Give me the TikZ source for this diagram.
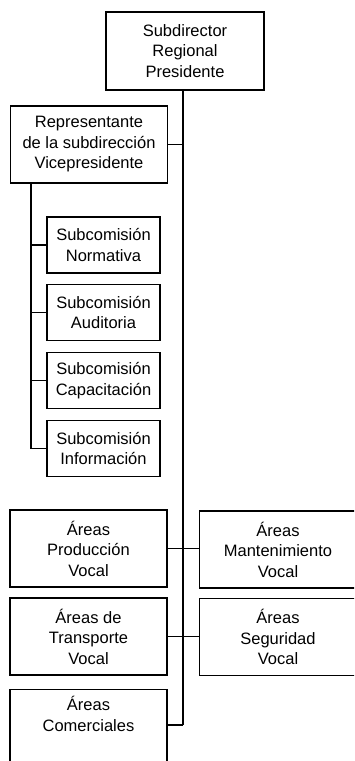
\documentclass[tikz,border=0pt]{standalone}
\usepackage{fontspec}
\setmainfont{Liberation Sans}
\begin{document}
\begin{tikzpicture}[x=1pt,y=-1pt,
  box/.style={draw, line width=1.1pt, align=center, inner sep=0pt,
    font=\fontsize{16.5}{20.5}\selectfont},
  wide/.style={box, minimum width=157pt, minimum height=77pt},
  sub/.style={box, minimum width=113pt, minimum height=56pt},
  txt/.style={align=center, inner sep=0pt, font=\fontsize{16.5}{20.5}\selectfont},
  conn/.style={line width=1.1pt}]
\useasboundingbox (0,0) rectangle (354,761);
\clip (0,0) rectangle (354,761);
\fill[white] (0,0) rectangle (354,761);
% nodes
\node[box, minimum width=158pt, minimum height=78pt] (top) at (185,51) {Subdirector\\Regional\\Presidente};
\node[wide] (rep) at (89,144.5) {Representante\\de la subdirección\\Vicepresidente};
\node[sub] (s1) at (103.5,245) {Subcomisión\\Normativa};
\node[sub] (s2) at (103.5,312.5) {Subcomisión\\Auditoria};
\node[sub] (s3) at (103.5,380.5) {Subcomisión\\Capacitación};
\node[sub] (s4) at (103.5,448.5) {Subcomisión\\Información};
\node[wide] (prod) at (88.5,548.5) {Áreas\\Producción\\Vocal};
\node[wide] (mant) at (278,549.5) {Áreas\\Mantenimiento\\Vocal};
\node[wide] (trans) at (88.5,636.5) {Áreas de\\Transporte\\Vocal};
\node[wide] (seg) at (278,637) {Áreas\\Seguridad\\Vocal};
\node[box, minimum width=157pt, minimum height=140pt, anchor=north] (com) at (88.5,689) {};
\node[txt] (comt) at (88.5,714) {Áreas\\Comerciales};
% coordinates
\coordinate (mtop) at (183,90);
\coordinate (mbot) at (183,725);
\coordinate (ltop) at (31,183);
\coordinate (lbot) at (31,448.5);
% connectors
\draw[conn] (mtop) -- (mbot);
\draw[conn] (rep.east) -- (rep.east -| mtop);
\draw[conn] (ltop) -- (lbot);
\draw[conn] (s1.west -| ltop) -- (s1.west);
\draw[conn] (s2.west -| ltop) -- (s2.west);
\draw[conn] (s3.west -| ltop) -- (s3.west);
\draw[conn] (s4.west -| ltop) -- (s4.west);
\draw[conn] (prod.east) -- (prod.east -| mant.west);
\draw[conn] (trans.east) -- (trans.east -| seg.west);
\draw[conn] (mbot) -- (mbot -| com.east);
\end{tikzpicture}
\end{document}
